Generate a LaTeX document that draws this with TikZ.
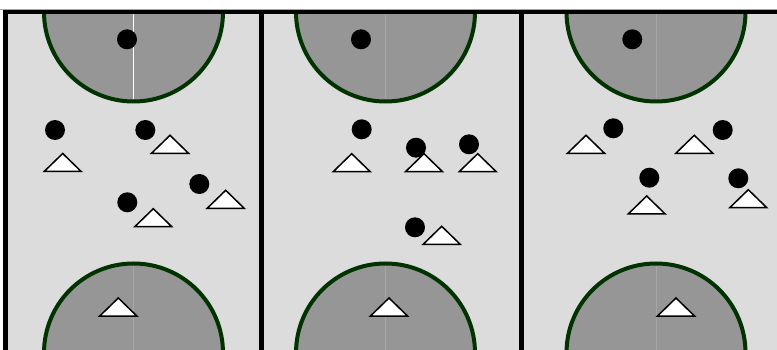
\documentclass[tikz,border=0pt]{standalone}
\definecolor{fieldgray}{HTML}{DCDCDC}
\definecolor{zonegray}{HTML}{969696}
\definecolor{zonegreen}{HTML}{003300}
\definecolor{seamgray}{HTML}{A6A6A6}
\tikzset{
  zone/.style={fill=zonegray, draw=zonegreen, line width=4pt},
  wall/.style={line width=4.5pt},
  robot/.style={fill=black},
  cone/.style={fill=white, draw=black, line width=1.5pt, line join=miter},
}
\begin{document}
\begin{tikzpicture}[x=1pt,y=-1pt]
    \useasboundingbox (0,0) rectangle (777,350);

    % Field
    \fill[fieldgray] (5.5,12) rectangle (790,353);

    % Goal zones (half circles on the end lines)
    \begin{scope}
        \clip (5.5,12) rectangle (790,353);
        \foreach \cx in {133.5,385.5,656} {
            \draw[zone] (\cx,12) circle[radius=89.5];
            \draw[zone] (\cx,353) circle[radius=89.5];
            \draw[seamgray, line width=0.8pt] (\cx,12) -- (\cx,99.5);
            \draw[seamgray, line width=0.8pt] (\cx,265.5) -- (\cx,353);
        }
        \draw[white, line width=1pt] (133.5,12) -- (133.5,99.5);
    \end{scope}

    % Walls
    \draw[gray!70, line width=0.8pt] (0,9.3) -- (777,9.3);
    \draw[wall] (5.5,353) -- (5.5,12) -- (790,12);
    \draw[wall] (261.5,12) -- (261.5,353);
    \draw[wall] (521.5,12) -- (521.5,353);

    % Robots
    \foreach \rx/\ry in {127/39.3, 55/130, 145.3/130, 199.3/184, 127.3/202.3,
                         361/39.3, 361.7/129.3, 416/147.7, 469/144.3, 415/227.3,
                         632.3/39.3, 613.3/128.3, 722.7/130, 649.3/177.7, 738.3/178.3}
        \fill[robot] (\rx,\ry) circle[radius=10];

    % Cones (base centre given)
    \foreach \tx/\ty in {62.7/171.5, 170/153.3, 225.7/208.3, 153.3/226.7, 118.3/316,
                         351.7/171.7, 424/171.7, 477.7/171.7, 441.7/244.3, 389/316,
                         586/153.3, 694.3/153.3, 646.7/214, 748.3/207.7, 676/316}
        \draw[cone] (\tx-18.5,\ty) -- (\tx,\ty-18) -- (\tx+18.5,\ty) -- cycle;
\end{tikzpicture}
\end{document}
